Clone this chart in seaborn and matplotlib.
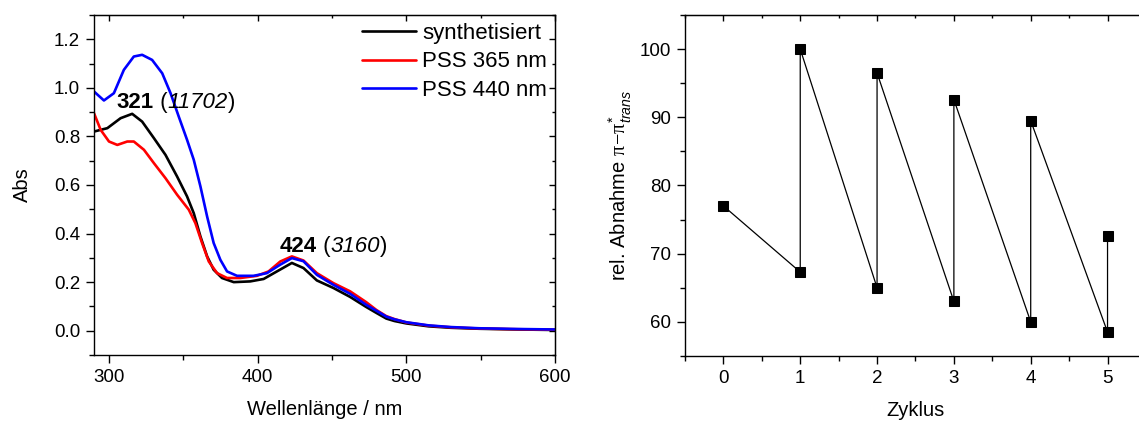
import pandas as pd
import matplotlib
matplotlib.use('Agg')
import matplotlib.pyplot as plt
import seaborn as sns
from matplotlib.ticker import MultipleLocator, FormatStrFormatter

# --- UV/Vis spectra ---
wl_synth = [290, 299, 307.9, 315.7, 322.4, 330.3, 338.1, 345.9, 352.6, 357.1, 361.6, 366.1, 370.5,
            376.1, 384, 395.1, 404.1, 413, 423.1, 430.9, 439.9, 451, 462.3, 473, 480, 486.6, 492,
            500, 515, 530, 549, 575, 600]
abs_synth = [0.820, 0.834, 0.875, 0.893, 0.861, 0.793, 0.724, 0.635, 0.553, 0.484, 0.388, 0.306,
             0.251, 0.217, 0.200, 0.203, 0.213, 0.244, 0.279, 0.258, 0.207, 0.176, 0.139, 0.098,
             0.073, 0.05, 0.04, 0.03, 0.018, 0.012, 0.008, 0.005, 0.003]

wl_365 = [290, 294.5, 300.1, 305.7, 312.4, 316.8, 323.6, 330.3, 338.1, 345.9, 353.8, 358.2, 362.7,
          367.2, 372.8, 379.5, 388.4, 399.6, 407.4, 415.3, 423.1, 430.9, 439.9, 451, 462.3, 473,
          480, 486.6, 492, 500, 515, 530, 549, 575, 600]
abs_365 = [0.896, 0.827, 0.779, 0.765, 0.779, 0.779, 0.745, 0.690, 0.628, 0.560, 0.498, 0.443,
           0.361, 0.285, 0.237, 0.217, 0.217, 0.226, 0.244, 0.285, 0.306, 0.289, 0.237, 0.196,
           0.162, 0.118, 0.085, 0.06, 0.048, 0.034, 0.021, 0.014, 0.009, 0.006, 0.004]

wl_440 = [290, 296.7, 303.4, 310.1, 316.8, 322.4, 329.1, 335.9, 341.5, 347, 352.6, 357.1, 361.6,
          366.1, 370.5, 375, 379.5, 386.2, 397.4, 406.3, 415.3, 423.1, 430.9, 439.9, 451, 462.3,
          473, 480, 486.6, 492, 500, 515, 530, 549, 575, 600]
abs_440 = [0.985, 0.948, 0.978, 1.074, 1.129, 1.136, 1.115, 1.060, 0.978, 0.882, 0.786, 0.704,
           0.594, 0.470, 0.361, 0.292, 0.244, 0.226, 0.226, 0.237, 0.272, 0.299, 0.286, 0.230,
           0.189, 0.152, 0.107, 0.082, 0.058, 0.047, 0.035, 0.022, 0.015, 0.010, 0.007, 0.005]

series_names = ['synthetisiert', 'PSS 365 nm', 'PSS 440 nm']
series_colors = ['#000000', '#ff0000', '#0000ff']

# --- switching cycles ---
zyklus = [0, 1, 1, 2, 2, 3, 3, 4, 4, 5, 5]
abnahme = [77.0, 67.3, 100.0, 65.0, 96.5, 63.0, 92.6, 60.0, 89.5, 58.5, 72.6]

spec = pd.concat([
    pd.DataFrame({'wl': wl_synth, 'abs': abs_synth, 'Probe': series_names[0]}),
    pd.DataFrame({'wl': wl_365, 'abs': abs_365, 'Probe': series_names[1]}),
    pd.DataFrame({'wl': wl_440, 'abs': abs_440, 'Probe': series_names[2]}),
], ignore_index=True)
cyc = pd.DataFrame({'Zyklus': zyklus, 'Abnahme': abnahme})

sns.set_style('ticks')
plt.rcParams['font.family'] = ['Liberation Sans', 'DejaVu Sans']
plt.rcParams['mathtext.fontset'] = 'custom'
plt.rcParams['mathtext.rm'] = 'Liberation Sans'
plt.rcParams['mathtext.it'] = 'Liberation Sans:italic'
plt.rcParams['mathtext.bf'] = 'Liberation Sans:bold'
plt.rcParams['mathtext.sf'] = 'Liberation Serif'
for key in ['text.color', 'axes.labelcolor', 'xtick.color', 'ytick.color', 'axes.edgecolor']:
    plt.rcParams[key] = 'black'

fig = plt.figure(figsize=(11.39, 4.21), dpi=100)
ax1 = fig.add_axes([0.0825, 0.1568, 0.4047, 0.8076])
ax2 = fig.add_axes([0.6014, 0.1545, 0.4047, 0.8100])


def style_axes(ax):
    for s in ax.spines.values():
        s.set_linewidth(1.0)
    ax.tick_params(which='major', direction='out', length=6, width=1.0, labelsize=13.5, pad=4)
    ax.tick_params(which='minor', direction='out', length=3.5, width=1.0)
    sx = ax.secondary_xaxis('top')
    sy = ax.secondary_yaxis('right')
    sx.xaxis.set_major_locator(ax.xaxis.get_major_locator())
    sx.xaxis.set_minor_locator(ax.xaxis.get_minor_locator())
    sy.yaxis.set_major_locator(ax.yaxis.get_major_locator())
    sy.yaxis.set_minor_locator(ax.yaxis.get_minor_locator())
    sx.set_xticklabels([])
    sy.set_yticklabels([])
    for sec in (sx, sy):
        sec.tick_params(which='major', direction='in', length=4, width=1.0)
        sec.tick_params(which='minor', direction='in', length=2.5, width=1.0)


def peak_label(ax, x, y, parts, size=16):
    # parts: list of (text, weight, style); drawn one after another on one baseline
    t = ax.text(x, y, parts[0][0], fontsize=size, fontweight=parts[0][1],
                fontstyle=parts[0][2], ha='left', va='baseline')
    for txt, weight, style in parts[1:]:
        t = ax.annotate(txt, xy=(1, 0), xycoords=t, fontsize=size, fontweight=weight,
                        fontstyle=style, ha='left', va='bottom')


# left: spectra
sns.lineplot(data=spec, x='wl', y='abs', hue='Probe', palette=series_colors,
             hue_order=series_names, estimator=None, sort=False, linewidth=1.9, ax=ax1)
for ln in ax1.lines:
    ln.set_solid_joinstyle('round')
ax1.set_xlim(290, 600)
ax1.set_ylim(-0.1, 1.3)
ax1.xaxis.set_major_locator(MultipleLocator(100))
ax1.xaxis.set_minor_locator(MultipleLocator(50))
ax1.yaxis.set_major_locator(MultipleLocator(0.2))
ax1.yaxis.set_minor_locator(MultipleLocator(0.1))
ax1.yaxis.set_major_formatter(FormatStrFormatter('%.1f'))
ax1.set_xlabel('Wellenlänge / nm', fontsize=14.5, labelpad=10)
ax1.set_ylabel('Abs', fontsize=14.5, labelpad=16)
style_axes(ax1)
handles, labels = ax1.get_legend_handles_labels()
ax1.legend(handles, labels, loc='upper right', frameon=False, fontsize=16,
           handlelength=2.4, handletextpad=0.3, labelspacing=0.34,
           borderaxespad=0.25, borderpad=0.1)
peak_label(ax1, 305.4, 0.918, [('321', 'bold', 'normal'), (' (', 'normal', 'normal'),
                               ('11702', 'normal', 'italic'), (')', 'normal', 'normal')])
peak_label(ax1, 414.8, 0.325, [('424', 'bold', 'normal'), (' (', 'normal', 'normal'),
                               ('3160', 'normal', 'italic'), (')', 'normal', 'normal')])

# right: cycles
sns.lineplot(data=cyc, x='Zyklus', y='Abnahme', estimator=None, sort=False, color='black',
             linewidth=0.9, marker='s', markersize=7.5, markeredgecolor='black', ax=ax2)
ax2.set_xlim(-0.5, 5.5)
ax2.set_ylim(55, 105)
ax2.xaxis.set_major_locator(MultipleLocator(1))
ax2.xaxis.set_minor_locator(MultipleLocator(0.5))
ax2.yaxis.set_major_locator(MultipleLocator(10))
ax2.yaxis.set_minor_locator(MultipleLocator(5))
ax2.set_xlabel('Zyklus', fontsize=14.5, labelpad=10)
ax2.set_ylabel(r'rel. Abnahme $\mathsf{\pi\!-\!\pi}^{*}_{\mathit{trans}}$', fontsize=14.5, labelpad=4)
style_axes(ax2)

fig.savefig('out.png', dpi=100)
